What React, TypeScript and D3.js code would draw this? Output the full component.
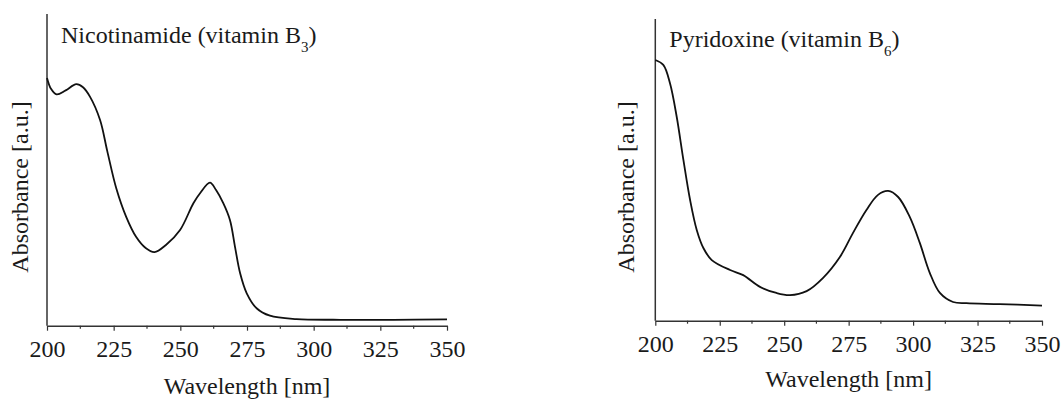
import React, { useEffect, useRef } from 'react';
import * as d3 from 'd3';

// wavelength ticks (nm)
const xTicks = [200, 225, 250, 275, 300, 325, 350];

// Nicotinamide (vitamin B3) spectrum
const b3Wavelength = [200, 201.5, 203.6, 207, 211, 213.5, 216.1, 219.9, 222.6, 226, 229.7, 233.4, 237, 240.3, 244.6, 249.9, 254.9, 257.4, 261.1, 263.4, 266.1, 268.6, 270.5, 272.4, 274.9, 278.6, 283.6, 293.6, 310, 330, 350];
const b3Absorbance = [0.795, 0.76, 0.742, 0.755, 0.775, 0.765, 0.735, 0.66, 0.56, 0.44, 0.349, 0.285, 0.249, 0.236, 0.259, 0.307, 0.393, 0.425, 0.459, 0.435, 0.393, 0.339, 0.253, 0.169, 0.104, 0.056, 0.032, 0.021, 0.019, 0.019, 0.02];

// Pyridoxine (vitamin B6) spectrum
const b6Wavelength = [200, 203.1, 205.7, 208.3, 210.9, 213.5, 216.1, 218.7, 221.9, 229, 234.1, 240.6, 247, 252.2, 258.7, 265.1, 271.6, 276.7, 281.9, 286.4, 290.3, 294.2, 298.7, 302.6, 306.5, 310.4, 315.5, 320.7, 333.6, 350];
const b6Absorbance = [0.864, 0.848, 0.787, 0.676, 0.533, 0.4, 0.3, 0.24, 0.201, 0.168, 0.151, 0.112, 0.092, 0.085, 0.098, 0.142, 0.211, 0.291, 0.367, 0.417, 0.43, 0.41, 0.344, 0.258, 0.158, 0.092, 0.062, 0.058, 0.055, 0.05];

const FONT = 'Liberation Serif, Times New Roman, serif';
const INK = '#1a1a1a';

const drawPanel = (svg, p) => {
  const x = d3.scaleLinear().domain([200, 350]).range([p.left, p.right]);
  const y = d3.scaleLinear().domain([0, 1]).range([p.bottom, p.top]);
  const g = svg.append('g');

  // minor ticks every 12.5 nm
  const minor = d3.range(212.5, 350, 25);
  g.selectAll('.minor')
    .data(minor)
    .enter()
    .append('line')
    .attr('x1', (d) => x(d))
    .attr('x2', (d) => x(d))
    .attr('y1', p.bottom)
    .attr('y2', p.bottom + 3)
    .attr('stroke', '#333')
    .attr('stroke-width', 1.2);

  const axis = g
    .append('g')
    .attr('transform', `translate(0,${p.bottom})`)
    .attr('font-family', FONT)
    .attr('font-size', 24)
    .call(d3.axisBottom(x).tickValues(xTicks).tickSize(5).tickSizeOuter(0).tickPadding(9));
  axis.attr('font-family', FONT).attr('font-size', 24);
  axis.select('.domain').attr('stroke', '#333').attr('stroke-width', 1.5);
  axis.selectAll('.tick line').attr('stroke', '#333').attr('stroke-width', 1.2);
  axis
    .selectAll('.tick text')
    .style('font-family', FONT)
    .style('font-size', '24px')
    .attr('fill', INK);

  // y axis line, no ticks
  g.append('line')
    .attr('x1', p.left)
    .attr('x2', p.left)
    .attr('y1', p.top)
    .attr('y2', p.bottom)
    .attr('stroke', '#333')
    .attr('stroke-width', 1.5);

  const pts = p.wl.map((w, i) => [w, p.ab[i]]);
  const line = d3
    .line()
    .x((d) => x(d[0]))
    .y((d) => y(d[1]))
    .curve(d3.curveCatmullRom.alpha(0.5));
  g.append('path')
    .datum(pts)
    .attr('d', line)
    .attr('fill', 'none')
    .attr('stroke', '#111')
    .attr('stroke-width', 1.8);

  const title = g
    .append('text')
    .attr('x', p.left + 14)
    .attr('y', p.titleY)
    .style('font-family', FONT)
    .style('font-size', '24px')
    .attr('fill', INK);
  title.append('tspan').text(p.title);
  title.append('tspan').style('font-size', '15px').attr('dy', 9).text(p.sub);
  title.append('tspan').attr('dy', -9).text(')');

  g.append('text')
    .attr('x', (p.left + p.right) / 2)
    .attr('y', p.xLabelY)
    .attr('text-anchor', 'middle')
    .style('font-family', FONT)
    .style('font-size', '24px')
    .attr('fill', INK)
    .text('Wavelength [nm]');

  g.append('text')
    .attr('transform', `translate(${p.yLabelX},187) rotate(-90)`)
    .attr('text-anchor', 'middle')
    .style('font-family', FONT)
    .style('font-size', '24px')
    .attr('fill', INK)
    .text('Absorbance [a.u.]');
};

const App = () => {
  const ref = useRef();

  useEffect(() => {
    const svg = d3.select(ref.current);
    svg.selectAll('*').remove();
    drawPanel(svg, {
      left: 47, right: 447, top: 14, bottom: 325.7,
      wl: b3Wavelength, ab: b3Absorbance,
      title: 'Nicotinamide (vitamin B', sub: '3', titleY: 43,
      xLabelY: 394, yLabelX: 28,
    });
    drawPanel(svg, {
      left: 655.3, right: 1042, top: 19, bottom: 320.7,
      wl: b6Wavelength, ab: b6Absorbance,
      title: 'Pyridoxine (vitamin B', sub: '6', titleY: 47,
      xLabelY: 387, yLabelX: 634,
    });
  }, []);

  return (
    <svg
      ref={ref}
      width={1063}
      height={400}
      style={{ position: 'absolute', left: 0, top: 0, background: '#fff' }}
    />
  );
};

export default App;
